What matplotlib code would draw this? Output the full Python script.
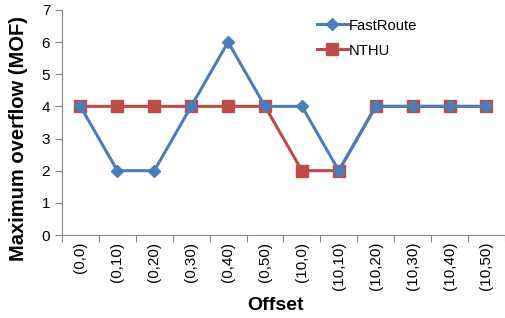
import numpy as np
import matplotlib
matplotlib.use("Agg")
import matplotlib.pyplot as plt

plt.rcParams['font.family'] = ['Liberation Sans', 'DejaVu Sans']

offsets = ["(0,0)", "(0,10)", "(0,20)", "(0,30)", "(0,40)", "(0,50)",
           "(10,0)", "(10,10)", "(10,20)", "(10,30)", "(10,40)", "(10,50)"]
fastroute = [4, 2, 2, 4, 6, 4, 4, 2, 4, 4, 4, 4]
nthu = [4, 4, 4, 4, 4, 4, 2, 2, 4, 4, 4, 4]

fig = plt.figure(figsize=(5.05, 3.18), dpi=100)
ax = fig.add_axes([0.1228, 0.261, 0.877, 0.708])

x = np.arange(len(offsets))
ax.plot(x, fastroute, color='#4A7EBB', lw=2.2, marker='D', ms=6, label='FastRoute', zorder=3)
ax.plot(x, nthu, color='#BE4B48', lw=2.2, marker='s', ms=8, label='NTHU', zorder=2)

ax.set_xlim(-0.5, len(offsets) - 0.5)
ax.set_ylim(0, 7)
ax.set_yticks(range(0, 8))
ax.set_xticks(np.arange(-0.5, len(offsets), 1.0))
ax.set_xticklabels([])
ax.set_xticks(x, minor=True)
ax.set_xticklabels(offsets, minor=True, rotation=90, fontsize=11)
ax.tick_params(axis='x', which='minor', length=0, pad=5)
ax.tick_params(axis='x', which='major', length=5, color='#888888', direction='out')
ax.tick_params(axis='y', length=5, color='#888888', direction='out', labelsize=11)

for s in ['top', 'right']:
    ax.spines[s].set_visible(False)
for s in ['left', 'bottom']:
    ax.spines[s].set_color('#888888')

ax.set_ylabel('Maximum overflow (MOF)', fontsize=14.5, fontweight='bold')
ax.yaxis.set_label_coords(-0.077, 0.427)
ax.set_xlabel('Offset', fontsize=14, fontweight='bold')
ax.xaxis.set_label_coords(0.483, -0.276)

ax.legend(loc='upper left', bbox_to_anchor=(0.545, 1.02), frameon=False,
          fontsize=10.6, handlelength=2.1, handletextpad=0.05, labelspacing=0.75)

fig.savefig('out.png', dpi=100)
